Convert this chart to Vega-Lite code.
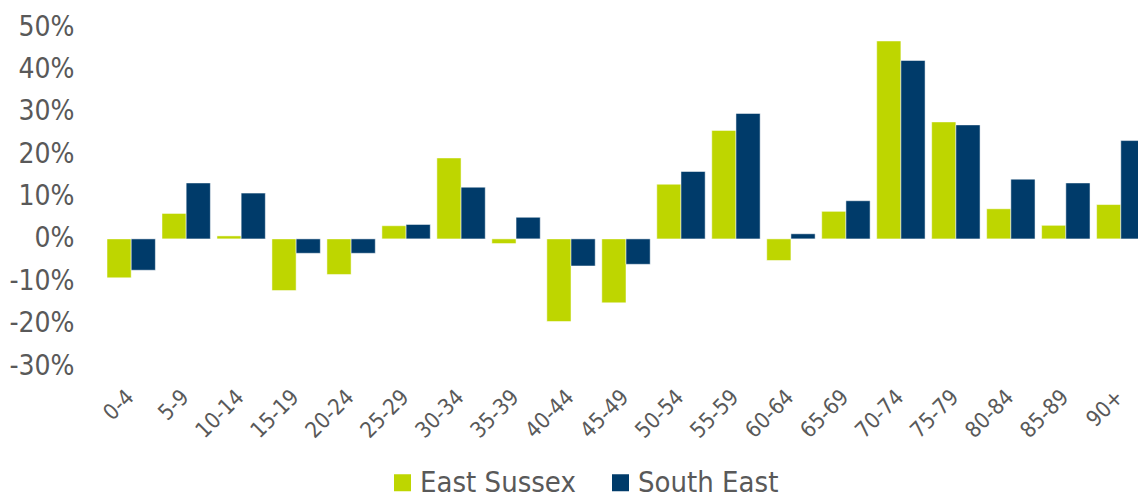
{
  "$schema": "https://vega.github.io/schema/vega-lite/v6.json",
  "width": 1031,
  "height": 339,
  "autosize": "none",
  "padding": {"left": 107, "top": 27, "right": 0, "bottom": 134},
  "background": "white",
  "config": {"view": {"stroke": null}, "font": "DejaVu Sans Condensed"},
  "data": {
    "values": [
      {"age": "0-4", "series": "East Sussex", "value": -0.092},
      {"age": "0-4", "series": "South East", "value": -0.074},
      {"age": "5-9", "series": "East Sussex", "value": 0.060},
      {"age": "5-9", "series": "South East", "value": 0.132},
      {"age": "10-14", "series": "East Sussex", "value": 0.007},
      {"age": "10-14", "series": "South East", "value": 0.108},
      {"age": "15-19", "series": "East Sussex", "value": -0.122},
      {"age": "15-19", "series": "South East", "value": -0.034},
      {"age": "20-24", "series": "East Sussex", "value": -0.084},
      {"age": "20-24", "series": "South East", "value": -0.034},
      {"age": "25-29", "series": "East Sussex", "value": 0.031},
      {"age": "25-29", "series": "South East", "value": 0.034},
      {"age": "30-34", "series": "East Sussex", "value": 0.191},
      {"age": "30-34", "series": "South East", "value": 0.122},
      {"age": "35-39", "series": "East Sussex", "value": -0.011},
      {"age": "35-39", "series": "South East", "value": 0.051},
      {"age": "40-44", "series": "East Sussex", "value": -0.195},
      {"age": "40-44", "series": "South East", "value": -0.064},
      {"age": "45-49", "series": "East Sussex", "value": -0.151},
      {"age": "45-49", "series": "South East", "value": -0.060},
      {"age": "50-54", "series": "East Sussex", "value": 0.129},
      {"age": "50-54", "series": "South East", "value": 0.159},
      {"age": "55-59", "series": "East Sussex", "value": 0.256},
      {"age": "55-59", "series": "South East", "value": 0.296},
      {"age": "60-64", "series": "East Sussex", "value": -0.051},
      {"age": "60-64", "series": "South East", "value": 0.012},
      {"age": "65-69", "series": "East Sussex", "value": 0.065},
      {"age": "65-69", "series": "South East", "value": 0.090},
      {"age": "70-74", "series": "East Sussex", "value": 0.467},
      {"age": "70-74", "series": "South East", "value": 0.421},
      {"age": "75-79", "series": "East Sussex", "value": 0.276},
      {"age": "75-79", "series": "South East", "value": 0.269},
      {"age": "80-84", "series": "East Sussex", "value": 0.071},
      {"age": "80-84", "series": "South East", "value": 0.141},
      {"age": "85-89", "series": "East Sussex", "value": 0.032},
      {"age": "85-89", "series": "South East", "value": 0.132},
      {"age": "90+", "series": "East Sussex", "value": 0.081},
      {"age": "90+", "series": "South East", "value": 0.232}
    ]
  },
  "mark": {"type": "bar", "stroke": "white", "strokeWidth": 1, "strokeOpacity": 0.5},
  "encoding": {
    "x": {
      "field": "age",
      "type": "nominal",
      "sort": null,
      "scale": {"range": [0, 1038], "paddingInner": 0.12, "paddingOuter": 0},
      "axis": {
        "title": null,
        "labelAngle": -45,
        "domain": false,
        "ticks": false,
        "labelFontSize": 22,
        "labelColor": "#595959",
        "labelPadding": 20,
        "labelOffset": -8
      }
    },
    "xOffset": {"field": "series", "sort": ["East Sussex", "South East"]},
    "y": {
      "field": "value",
      "type": "quantitative",
      "scale": {"domain": [-0.3, 0.5], "nice": false},
      "axis": {
        "title": null,
        "format": ".0%",
        "labelExpr": "replace(datum.label, '\u2212', '-')",
        "values": [-0.3, -0.2, -0.1, 0, 0.1, 0.2, 0.3, 0.4, 0.5],
        "grid": false,
        "domain": false,
        "ticks": false,
        "labelFontSize": 28,
        "labelColor": "#595959",
        "labelPadding": 33
      }
    },
    "color": {
      "field": "series",
      "type": "nominal",
      "scale": {"domain": ["East Sussex", "South East"], "range": ["#BED600", "#003B6A"]},
      "legend": {
        "title": null,
        "orient": "none",
        "direction": "horizontal",
        "legendX": 281,
        "legendY": 441,
        "padding": 0,
        "symbolType": "square",
        "symbolSize": 289,
        "symbolStrokeWidth": 0,
        "symbolOpacity": 1,
        "labelFontSize": 29,
        "labelColor": "#595959",
        "labelOffset": 3,
        "labelLimit": 400,
        "columnPadding": 30
      }
    }
  }
}
